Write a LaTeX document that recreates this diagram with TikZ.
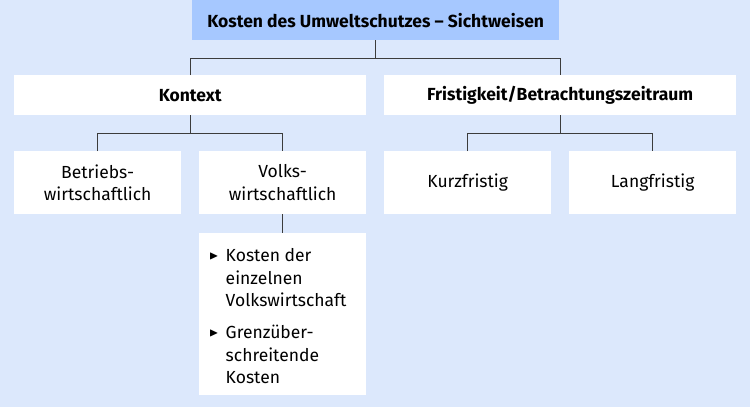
\documentclass[tikz,border=0pt]{standalone}
\usepackage{fontspec}
\usepackage{amssymb}
\setmainfont{Fira Sans}
\definecolor{bgc}{RGB}{220,232,252}
\definecolor{topc}{RGB}{166,200,255}
\definecolor{lnc}{RGB}{60,60,60}
\begin{document}
\begin{tikzpicture}[x=1pt,y=-1pt,
  every node/.style={text=black},
  txt/.style={font=\fontsize{17.5}{22.5}\selectfont},
  bld/.style={font=\fontsize{17.5}{22.5}\selectfont\bfseries},
  box/.style={fill=white, inner sep=0pt, align=center, anchor=north west},
  conn/.style={draw=lnc, line width=0.9pt}]
\fill[bgc] (0,0) rectangle (750,407);
\useasboundingbox (0,0) rectangle (750,407);
% boxes
\node[box, bld, fill=topc, minimum width=367pt, minimum height=40pt] (top) at (192,0) {Kosten des Umweltschutzes -- Sichtweisen};
\node[box, bld, minimum width=352pt, minimum height=40pt] (kontext) at (14,75) {Kontext};
\node[box, bld, minimum width=352pt, minimum height=40pt] (frist) at (384,75) {Fristigkeit/Betrachtungszeitraum};
\node[box, txt, minimum width=167pt, minimum height=63pt] (betr) at (14,151) {Betriebs-\\wirtschaftlich};
\node[box, txt, minimum width=167pt, minimum height=63pt] (volks) at (199,151) {Volks-\\wirtschaftlich};
\node[box, txt, minimum width=167pt, minimum height=63pt] (kurz) at (384,151) {Kurzfristig};
\node[box, txt, minimum width=167pt, minimum height=63pt] (lang) at (569,151) {Langfristig};
\node[box, minimum width=167pt, minimum height=162pt] (list) at (199,233) {};
\node[txt, anchor=north west, inner sep=0pt, align=left] (listtext) at (209,246)
  {\begin{tabular}{@{}l@{\hspace{7pt}}l@{}}
   \raisebox{2.5pt}{\scalebox{0.7}{$\blacktriangleright$}} & Kosten der\\
   & einzelnen\\
   & Volkswirtschaft\\[9.5pt]
   \raisebox{2.5pt}{\scalebox{0.7}{$\blacktriangleright$}} & Grenzüber-\\
   & schreitende\\
   & Kosten
   \end{tabular}};
% junctions
\path (top.south) ++(0,18) coordinate (j1);
\path (kontext.south) ++(0,18) coordinate (j2);
\path (frist.south) ++(0,18) coordinate (j3);
% connectors
\draw[conn] (top.south) -- (j1);
\draw[conn] (kontext.north) |- (j1) -| (frist.north);
\draw[conn] (kontext.south) -- (j2);
\draw[conn] (betr.north) |- (j2) -| (volks.north);
\draw[conn] (frist.south) -- (j3);
\draw[conn] (kurz.north) |- (j3) -| (lang.north);
\draw[conn] (volks.south) -- (list.north);
\end{tikzpicture}
\end{document}
